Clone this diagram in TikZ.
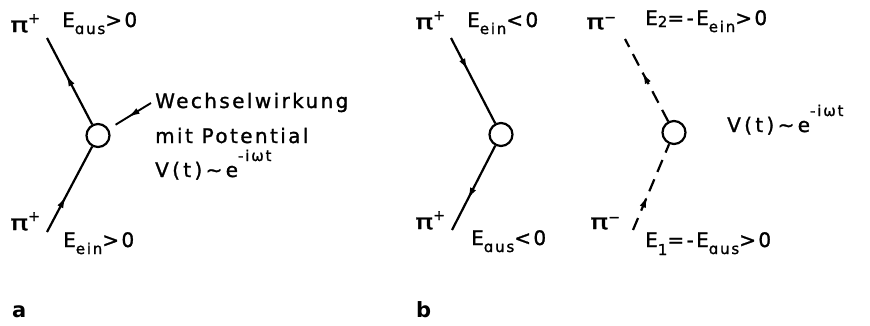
\documentclass[tikz,border=0pt]{standalone}
\usepackage{fontspec}
\usepackage{graphicx}
\setmainfont{DejaVu Sans}
\newfontfamily\lblfont{DejaVu Sans}[LetterSpace=12,FakeBold=1.3]
\newfontfamily\panelfont{DejaVu Sans Bold}
\usetikzlibrary{arrows.meta,decorations.markings}
\newcommand\lsub[2][7pt]{\raisebox{-#1}{\fontsize{15}{15}\selectfont #2}}
\newcommand\lsup[2][9pt]{\raisebox{#1}{\fontsize{14}{14}\selectfont #2}}
\newcommand\bigpi{\scalebox{1.5}[1.05]{π}}
\tikzset{
  lbl/.style={anchor=base west, inner sep=0pt, font=\lblfont\fontsize{20}{20}\selectfont},
  vtx/.style={circle, draw, line width=2.2pt, minimum size=23pt, inner sep=0pt},
  prop/.style={line width=2.2pt},
  dprop/.style={line width=2.2pt, dash pattern=on 13pt off 8pt},
  midarr/.style={postaction={decorate}, decoration={markings,
     mark=at position #1 with {\arrow{Latex[length=12pt,width=6.5pt]}}}},
  panel/.style={anchor=base west, inner sep=0pt, font=\panelfont\fontsize{21}{21}\selectfont}
}
\begin{document}
\begin{tikzpicture}[x=1pt,y=-1pt]
\useasboundingbox (0,0) rectangle (870,325);
% ---- panel a
\node[vtx] (ca) at (98,135.5) {};
\coordinate (a1) at (47,38);
\coordinate (a2) at (47,232);
\coordinate (ap) at (151,103);
\draw[prop, midarr=0.58] (ca) -- (a1);
\draw[prop, midarr=0.42] (a2) -- (ca);
\draw[line width=1.9pt, midarr=0.55, shorten >=8pt] (ap) -- (ca);
\node[lbl] (pa1) at (10,32) {\bigpi\lsup{+}};
\node[lbl] (ea1) at (62,27) {E\lsub{ɑus}>0};
\node[lbl] (pa2) at (10,230) {\bigpi\lsup{+}};
\node[lbl] (ea2) at (63,247) {E\lsub{ein}>0};
\node[lbl] (wa1) at (155,108) {Wechselwirkung};
\node[lbl] (wa2) at (155,143) {mit Potential};
\node[lbl] (wa3) at (155,177) {V\,(\,t\,)\,∼\,e\lsup[16pt]{\fontsize{15}{15}\selectfont -iωt}};
\node[panel] (la) at (12,317) {a};
% ---- panel b left
\node[vtx] (cb) at (501,134.5) {};
\coordinate (b1) at (451,38);
\coordinate (b2) at (452,230);
\draw[prop, midarr=0.38] (b1) -- (cb);
\draw[prop, midarr=0.64] (cb) -- (b2);
\node[lbl] (pb1) at (415,29) {\bigpi\lsup{+}};
\node[lbl] (eb1) at (467,27) {E\lsub{ein}<0};
\node[lbl] (pb2) at (415,229) {\bigpi\lsup{+}};
\node[lbl] (eb2) at (471,245) {E\lsub{ɑus}<0};
\node[panel] (lb) at (416,317) {b};
% ---- panel b right
\node[vtx] (cc) at (674,132.5) {};
\coordinate (c1) at (625,39);
\coordinate (c2) at (633,230);
\draw[dprop, midarr=0.6] (cc) -- (c1);
\draw[dprop, midarr=0.4] (c2) -- (cc);
\node[lbl] (pc1) at (586,29) {\bigpi\lsup[7pt]{−}};
\node[lbl] (ec1) at (645,25) {E\lsub[2pt]{2}=-E\lsub{ein}>0};
\node[lbl] (vc) at (727,132) {V\,(\,t\,)\,∼\,e\lsup[16pt]{\fontsize{15}{15}\selectfont -iωt}};
\node[lbl] (pc2) at (590,229) {\bigpi\lsup[7pt]{−}};
\node[lbl] (ec2) at (645,247) {E\lsub[8pt]{1}=-E\lsub{ɑus}>0};
\end{tikzpicture}
\end{document}
